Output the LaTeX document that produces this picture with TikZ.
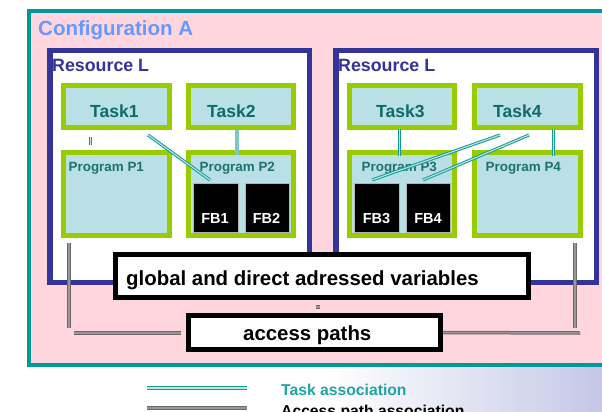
\documentclass[tikz,border=0pt]{standalone}
\usepackage{fontspec}
\setmainfont{Liberation Sans}
\usetikzlibrary{calc}

\definecolor{cfgteal}{HTML}{009999}
\definecolor{cfgpink}{HTML}{FFD6DE}
\definecolor{resblue}{HTML}{333399}
\definecolor{boxgreen}{HTML}{99CC00}
\definecolor{boxfill}{HTML}{B9E0E4}
\definecolor{tasktext}{HTML}{0E6B6B}
\definecolor{progtext}{HTML}{1F7070}
\definecolor{cfgtext}{HTML}{6699FF}
\definecolor{assocteal}{HTML}{169A9A}
\definecolor{assoclight}{HTML}{BCE4E4}
\definecolor{pathdark}{HTML}{6C686A}
\definecolor{pathlight}{HTML}{9C969A}
\definecolor{legendtext}{HTML}{1FA3A3}
\definecolor{lavender}{HTML}{C4C8E6}

\newcommand{\fsz}[1]{\fontsize{#1}{#1}\selectfont}

\tikzset{
  cfgbox/.style={draw=cfgteal, fill=cfgpink, line width=4pt, inner sep=0pt},
  resbox/.style={draw=resblue, fill=white, line width=5.5pt, inner sep=0pt, minimum height=231.5pt},
  greenbox/.style={draw=boxgreen, fill=boxfill, line width=5pt, inner sep=0pt},
  fbbox/.style={draw=gray!60, fill=black, line width=0.6pt, inner sep=0pt, minimum height=49pt},
  varbox/.style={draw=black, fill=white, line width=5pt, inner sep=0pt},
  lbl/.style={inner sep=0pt, anchor=base west},
  tasklbl/.style={lbl, text=tasktext, font=\bfseries\fsz{17.5}},
  proglbl/.style={lbl, text=progtext, font=\bfseries\fsz{13.4}},
  fblbl/.style={inner sep=0pt, anchor=base, text=white, font=\bfseries\fsz{14.5}},
  varlbl/.style={lbl, text=black, font=\bfseries\fsz{20.4}},
  taskassoc/.style={draw=assocteal, double=assoclight, line width=1pt, double distance=1.1pt},
  pathassoc/.style={draw=pathdark, double=pathlight, line width=1pt, double distance=1.5pt},
}

\begin{document}
\begin{tikzpicture}[x=1pt, y=-1pt]
  \useasboundingbox (0,0) rectangle (602,412);
  \clip (0,0) rectangle (602,412);

  % page background with a soft tint towards the lower right
  \fill[white] (0,0) rectangle (602,412);
  \shade[left color=white, right color=lavender] (330,367) rectangle (602,412);

  % configuration frame
  \node[cfgbox, minimum width=579.5pt, minimum height=353.7pt] (cfg) at (318.25,188.2) {};
  \node[lbl, text=cfgtext, font=\bfseries\fsz{20.5}] (cfgname) at (38,36) {Configuration A};

  % resources
  \node[resbox, minimum width=259.5pt] (resL) at (179.5,166.5) {};
  \node[resbox, minimum width=260.5pt] (resR) at (466,166.5) {};
  \node[lbl, text=resblue, font=\bfseries\fsz{17.8}] (resLname) at (52,71) {Resource L};
  \node[lbl, text=resblue, font=\bfseries\fsz{17.8}] (resRname) at (338,71) {Resource L};

  % tasks
  \node[greenbox, minimum width=106pt, minimum height=42pt] (task1) at (116.5,106.5) {};
  \node[greenbox, minimum width=105pt, minimum height=42pt] (task2) at (241,106.5) {};
  \node[greenbox, minimum width=105pt, minimum height=42pt] (task3) at (402,106.5) {};
  \node[greenbox, minimum width=106pt, minimum height=42pt] (task4) at (527.5,106.5) {};
  \node[tasklbl] (task1name) at (90,117.5) {Task1};
  \node[tasklbl] (task2name) at (207,117.5) {Task2};
  \node[tasklbl] (task3name) at (376,117.5) {Task3};
  \node[tasklbl] (task4name) at (493,117.5) {Task4};

  % programs
  \node[greenbox, minimum width=106pt, minimum height=83pt] (prog1) at (116.5,194) {};
  \node[greenbox, minimum width=105pt, minimum height=83pt] (prog2) at (241,194) {};
  \node[greenbox, minimum width=105pt, minimum height=83pt] (prog3) at (402,194) {};
  \node[greenbox, minimum width=106pt, minimum height=83pt] (prog4) at (527.5,194) {};
  \node[proglbl] (prog1name) at (68.5,171) {Program P1};
  \node[proglbl] (prog2name) at (199.5,171) {Program P2};
  \node[proglbl] (prog3name) at (361.5,171) {Program P3};
  \node[proglbl] (prog4name) at (485.5,171) {Program P4};

  % function blocks
  \node[fbbox, minimum width=45pt] (fb1) at (215.5,207.5) {};
  \node[fbbox, minimum width=44pt] (fb2) at (267,207.5) {};
  \node[fbbox, minimum width=45pt] (fb3) at (376.5,207.5) {};
  \node[fbbox, minimum width=44pt] (fb4) at (428,207.5) {};
  \node[fblbl] (fb1name) at (215,223) {FB1};
  \node[fblbl] (fb2name) at (266.5,223) {FB2};
  \node[fblbl] (fb3name) at (376.5,223) {FB3};
  \node[fblbl] (fb4name) at (428,223) {FB4};

  % task associations
  \coordinate (t1p1a) at (90.5,137);   \coordinate (t1p1b) at (90.5,145);
  \coordinate (t1fba) at (148,135);    \coordinate (t1fbb) at (210,180);
  \coordinate (t2p2a) at (237,130);    \coordinate (t2p2b) at (237,155);
  \coordinate (t3p3a) at (399.5,129);  \coordinate (t3p3b) at (399.5,156);
  \coordinate (t4p4a) at (553.5,129);  \coordinate (t4p4b) at (553.5,156);
  \coordinate (t4f3a) at (500,135);    \coordinate (t4f3b) at (372,180);
  \coordinate (t4f4a) at (529,135);    \coordinate (t4f4b) at (423,180);
  \draw[taskassoc] (t1p1a) -- (t1p1b);
  \draw[taskassoc] (t1fba) -- (t1fbb);
  \draw[draw=assocteal!55, line width=3.5pt] (t2p2a) -- (t2p2b);
  \draw[taskassoc] (t3p3a) -- (t3p3b);
  \draw[taskassoc] (t4p4a) -- (t4p4b);
  \draw[taskassoc] (t4f3a) -- (t4f3b);
  \draw[taskassoc] (t4f4a) -- (t4f4b);

  % access path associations
  \coordinate (apL1) at (69,243);  \coordinate (apL2) at (69,328);
  \coordinate (apL3) at (74,333);  \coordinate (apL4) at (181,333);
  \coordinate (apR1) at (575,243); \coordinate (apR2) at (575,328);
  \coordinate (apR3) at (580,333);
  \coordinate (apM1) at (316,307); \coordinate (apM2) at (320,307);
  \draw[pathassoc] (apL1) -- (apL2);
  \draw[pathassoc] (apL3) -- (apL4);
  \draw[pathassoc] (apR1) -- (apR2);
  \draw[pathassoc] (apM1) -- (apM2);

  % shared variables and access paths
  \node[varbox, minimum width=413pt, minimum height=43pt] (globals) at (322,276) {};
  \node[varlbl] (globalsname) at (126,285.5) {global and direct adressed variables};
  \node[varbox, minimum width=252pt, minimum height=34pt] (access) at (314.5,332.5) {};
  \node[varlbl] (accessname) at (243,340) {access paths};
  \draw[pathassoc] (access.east) -- (apR3);

  % legend
  \coordinate (lgTa) at (147,388); \coordinate (lgTb) at (247,388);
  \coordinate (lgPa) at (147,408); \coordinate (lgPb) at (247,408);
  \draw[taskassoc, line width=1pt, double distance=1.2pt] (lgTa) -- (lgTb);
  \draw[pathassoc] (lgPa) -- (lgPb);
  \node[lbl, text=legendtext, font=\bfseries\fsz{15.7}] (lgTname) at (281,395) {Task association};
  \node[lbl, text=black, font=\bfseries\fsz{15.7}] (lgPname) at (281,416) {Access path association};
\end{tikzpicture}
\end{document}
